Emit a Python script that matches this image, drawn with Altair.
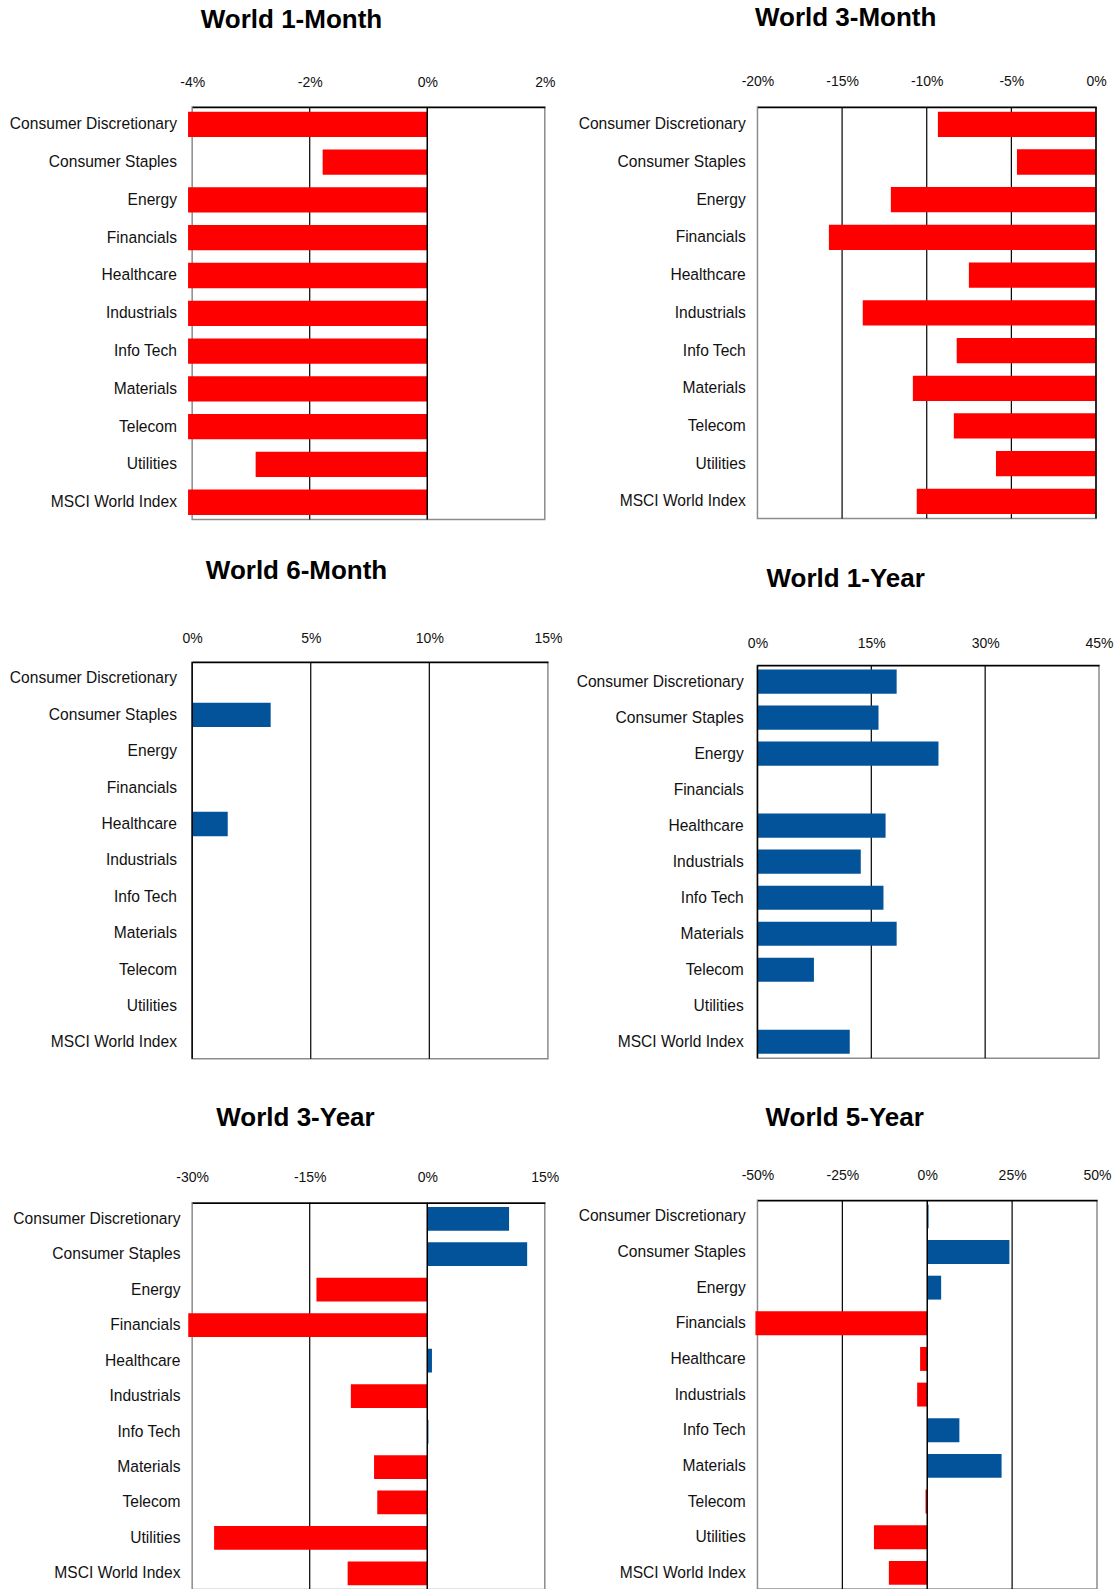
import altair as alt
import pandas as pd

categories = ["Consumer Discretionary", "Consumer Staples", "Energy", "Financials",
              "Healthcare", "Industrials", "Info Tech", "Materials", "Telecom",
              "Utilities", "MSCI World Index"]

m1_vals = [-4.07, -1.78, -4.07, -4.07, -4.07, -4.07, -4.07, -4.07, -4.07, -2.92, -4.07]
m3_vals = [-9.34, -4.67, -12.12, -15.78, -7.51, -13.78, -8.23, -10.82, -8.40, -5.91, -10.59]
m6_vals = [None, 3.31, None, None, 1.50, None, None, None, None, None, None]
y1_vals = [18.34, 15.95, 23.85, None, 16.88, 13.61, 16.60, 18.34, 7.44, None, 12.16]
y3_vals = [10.44, 12.75, -14.14, -30.5, 0.60, -9.75, 0.15, -6.79, -6.38, -27.2, -10.16]
y5_vals = [0.4, 24.2, 4.1, -50.6, -2.1, -2.97, 9.47, 21.9, -0.5, -15.7, -11.3]

titles = ["World 1-Month", "World 3-Month", "World 6-Month",
          "World 1-Year", "World 3-Year", "World 5-Year"]

m1_ticks = [-4, -2, 0, 2]
m3_ticks = [-20, -15, -10, -5, 0]
m6_ticks = [0, 5, 10, 15]
y1_ticks = [0, 15, 30, 45]
y3_ticks = [-30, -15, 0, 15]
y5_ticks = [-50, -25, 0, 25, 50]

m1_grid = [-2]
m3_grid = [-15, -10, -5]
m6_grid = [5, 10]
y1_grid = [15, 30]
y3_grid = [-15]
y5_grid = [-25, 25]

zero_line = [0]

RED = "#FF0000"
BLUE = "#03539A"
FONT = "Liberation Sans"


def panel(title, vals, ticks, grid, w, h, lp_y, lp_x, toff, tdx, lead=None):
    df = pd.DataFrame({"cat": categories, "v": vals}).dropna()
    dom = [ticks[0], ticks[-1]]
    xscale = alt.Scale(domain=dom, nice=False)
    yscale = alt.Scale(domain=categories, paddingInner=0.33, paddingOuter=0.12)
    xaxis = alt.Axis(orient="top", values=ticks, labelExpr="datum.value + '%'",
                     grid=False, ticks=False, tickSize=0, domain=True,
                     domainColor="black", domainWidth=1.5,
                     labelPadding=lp_x, labelFontSize=14, labelColor="#111111",
                     labelFlush=False, labelOverlap=False, title=None)

    bars = alt.Chart(df).mark_bar().encode(
        x=alt.X("v:Q", scale=xscale, axis=xaxis),
        y=alt.Y("cat:N", scale=yscale,
                axis=alt.Axis(title=None, ticks=False, domain=False, labelPadding=lp_y,
                              labelFontSize=15.6, labelColor="#111111", labelLimit=400)),
        color=alt.condition("datum.v < 0", alt.value(RED), alt.value(BLUE)),
    )
    grid_layer = alt.Chart(pd.DataFrame({"g": grid})).mark_rule(
        color="black", strokeWidth=1.2).encode(x=alt.X("g:Q", scale=xscale, axis=xaxis))
    zero_layer = alt.Chart(pd.DataFrame({"z": zero_line})).mark_rule(
        color="black", strokeWidth=1.5).encode(x=alt.X("z:Q", scale=xscale, axis=xaxis))

    if lead is None:
        tparams = alt.Title(title, fontSize=26, fontWeight="bold", font=FONT, color="black",
                            offset=toff, dx=tdx, frame="group", anchor="middle")
    else:
        tparams = alt.Title(["", title], fontSize=26, fontWeight="bold", font=FONT,
                            color="black", lineHeight=lead,
                            offset=toff, dx=tdx, frame="group", anchor="middle")

    return alt.layer(grid_layer, bars, zero_layer).properties(
        width=w, height=h, title=tparams)


p1 = panel(titles[0], m1_vals, m1_ticks, m1_grid, 352.7, 412.4, 15.7, 17.5, 42.8, -77, lead=2)
p2 = panel(titles[1], m3_vals, m3_ticks, m3_grid, 338.6, 411.5, 12.2, 18.4, 44.0, -81.1)
p3 = panel(titles[2], m6_vals, m6_ticks, m6_grid, 355.8, 397, 15.7, 16, 47.8, -73.5)
p4 = panel(titles[3], y1_vals, y1_ticks, y1_grid, 341.6, 393, 14.2, 15, 43.8, -82.6)
p5 = panel(titles[4], y3_vals, y3_ticks, y3_grid, 352.7, 387, 12.2, 18, 39.8, -73)
p6 = panel(titles[5], y5_vals, y5_ticks, y5_grid, 339.6, 389, 12.2, 18, 36.8, -82.6)


def stack(a, b, gap):
    return alt.concat(a, b, columns=1, align="none", spacing=gap)


col1 = stack(stack(p1, p3, 35.9), p5, 42.7)
col2 = stack(stack(p2, p4, 45.2), p6, 44.2)

chart = alt.hconcat(col1, col2, spacing=11.4).properties(
    padding={"left": 8.2, "top": 3, "right": 0, "bottom": 0},
    background="white",
).configure(font=FONT).configure_view(
    stroke="#8c8c8c", strokeWidth=1.5
).configure_axis(labelFont=FONT)

chart.save("out.html", embed_options={"renderer": "svg", "actions": False})
